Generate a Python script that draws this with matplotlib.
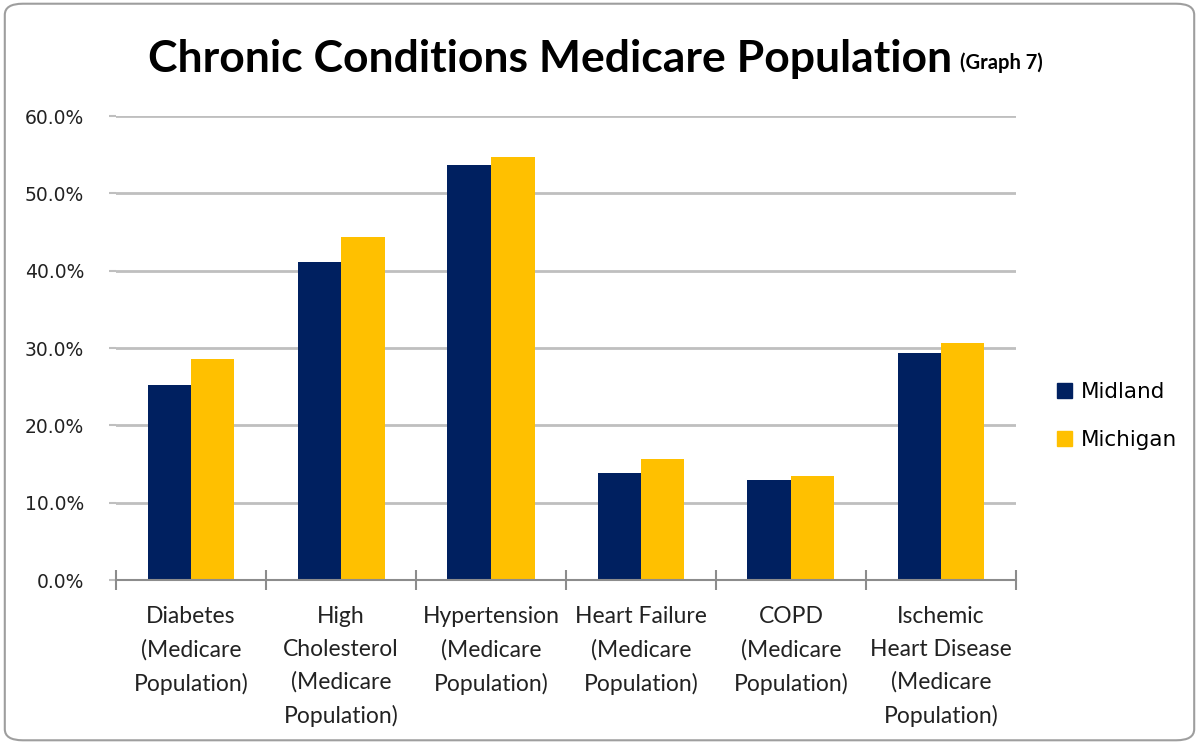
import numpy as np
import matplotlib.pyplot as plt
from matplotlib.patches import FancyBboxPatch, Patch
from matplotlib.ticker import FuncFormatter

# data
categories = ["Diabetes\n(Medicare\nPopulation)",
              "High\nCholesterol\n(Medicare\nPopulation)",
              "Hypertension\n(Medicare\nPopulation)",
              "Heart Failure\n(Medicare\nPopulation)",
              "COPD\n(Medicare\nPopulation)",
              "Ischemic\nHeart Disease\n(Medicare\nPopulation)"]
midland = [0.252, 0.411, 0.537, 0.139, 0.129, 0.294]
michigan = [0.286, 0.444, 0.547, 0.157, 0.134, 0.306]
series_names = ["Midland", "Michigan"]
colors = ["#002060", "#FFC000"]

fig = plt.figure(figsize=(11.99, 7.44), dpi=100)
ax = fig.add_axes([116/1199, 1 - 580/744, 900/1199, 464/744])

x = np.arange(len(categories))
w = 0.29
ax.bar(x - w/2, midland, w, color=colors[0], zorder=3)
ax.bar(x + w/2, michigan, w, color=colors[1], zorder=3)

ax.set_xlim(-0.5, len(categories) - 0.5)
ax.set_ylim(0, 0.6)
ax.set_yticks(np.arange(0, 0.61, 0.1))
ax.yaxis.set_major_formatter(FuncFormatter(lambda v, p: f"{v*100:.1f}%"))
ax.grid(axis="y", color="#BFBFBF", lw=2, zorder=0)

# category boundaries as major ticks, labels on minor ticks
ax.set_xticks(np.arange(-0.5, len(categories), 1.0))
ax.set_xticklabels([])
ax.set_xticks(x, minor=True)
ax.set_xticklabels(categories, minor=True, family=["Lato", "DejaVu Sans"],
                   fontsize=16.5, color="#222222", linespacing=1.66)
ax.tick_params(axis="x", which="major", direction="inout", length=15,
               width=1.5, color="#8C8C8C")
ax.tick_params(axis="x", which="minor", length=0, pad=19)
ax.tick_params(axis="y", length=5, width=1.5, color="#BFBFBF", pad=18,
               labelsize=13.5, labelcolor="#222222")

for s in ["top", "right", "left"]:
    ax.spines[s].set_visible(False)
ax.spines["bottom"].set_color("#8C8C8C")
ax.spines["bottom"].set_linewidth(1.5)
ax.spines["bottom"].set_zorder(4)

handles = [Patch(color=c, label=n) for c, n in zip(colors, series_names)]
fig.legend(handles=handles, loc="center left",
           bbox_to_anchor=(1038/1199, 1 - 416/744), frameon=False,
           fontsize=15.5, handlelength=0.7, handleheight=0.7,
           handletextpad=0.4, labelspacing=1.3)

fig.text(148/1199, 1 - 72/744, "Chronic Conditions Medicare Population",
         family="Lato", weight="bold", fontsize=32,
         va="baseline", ha="left")
fig.text(960/1199, 1 - 69/744, "(Graph 7)",
         family="Lato", weight="bold", fontsize=14.5,
         va="baseline", ha="left")

fig.patches.append(FancyBboxPatch((0.004, 0.005), 0.992, 0.99,
                                  boxstyle="round,pad=0,rounding_size=0.015",
                                  transform=fig.transFigure, fill=False,
                                  edgecolor="#9E9E9E", lw=1.5))

fig.savefig("out.png", dpi=100)
